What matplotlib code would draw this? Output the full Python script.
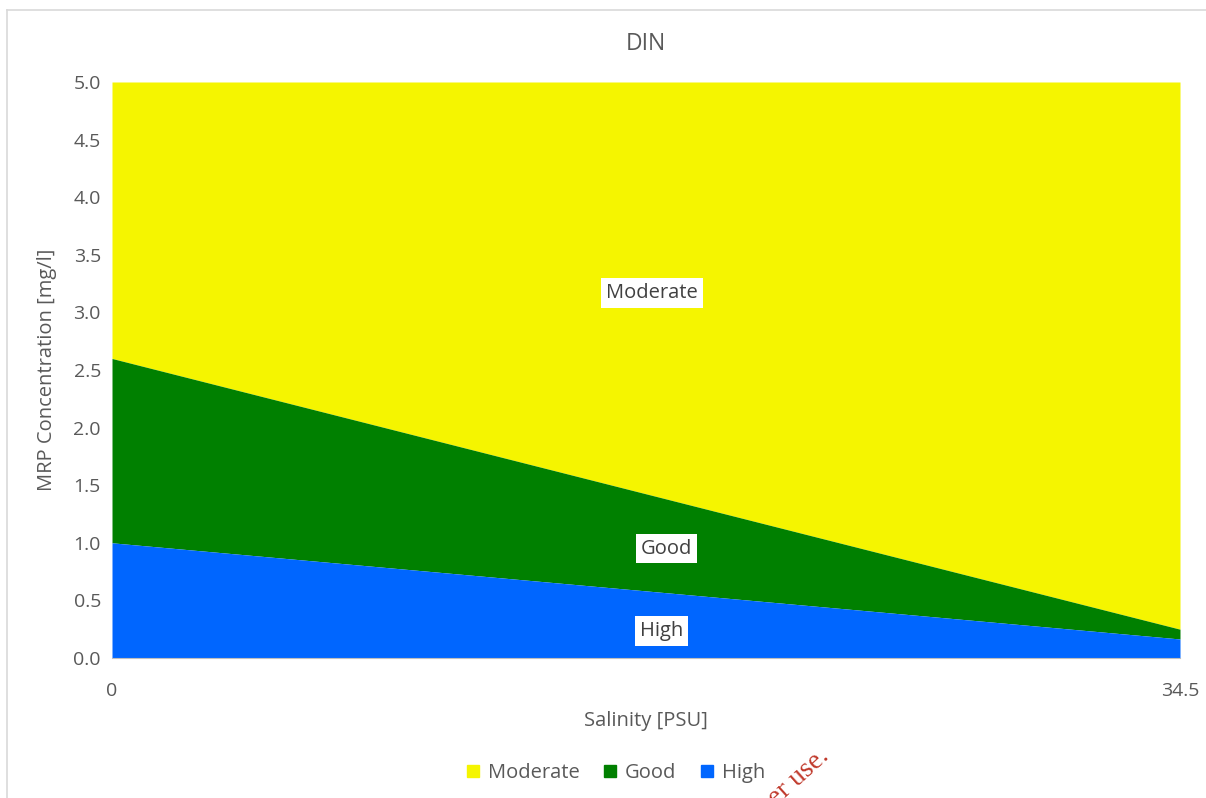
import matplotlib
matplotlib.use("Agg")
import matplotlib.pyplot as plt
from matplotlib.lines import Line2D
import numpy as np

plt.rcParams['font.family'] = ['Open Sans', 'DejaVu Sans']

# Data
salinity = [0, 34.5]
high = [1.0, 0.165]
good_upper = [2.6, 0.25]
moderate_upper = [5.0, 5.0]
series_names = ["Moderate", "Good", "High"]
label_x = [17.45, 17.9, 17.75]
label_y = [3.17, 0.95, 0.235]

c_mod = "#F5F500"
c_good = "#008000"
c_high = "#0066FF"
txt = "#595959"

fig = plt.figure(figsize=(12.06, 7.98), dpi=100)
ax = fig.add_axes([112/1206, 1-658/798, (1180-112)/1206, (658-82)/798])

x = np.array(salinity)
ax.fill_between(x, good_upper, moderate_upper, color=c_mod, lw=0, label="Moderate")
ax.fill_between(x, high, good_upper, color=c_good, lw=0, label="Good")
ax.fill_between(x, 0, high, color=c_high, lw=0, label="High")

ax.set_xlim(0, 34.5)
ax.set_ylim(0, 5.0)
yt = np.arange(0, 5.01, 0.5)
ax.set_yticks(yt)
ax.set_yticklabels([f"{v:.1f}" for v in yt])
ax.set_xticks([0, 34.5])
ax.set_xticklabels(["0", "34.5"])
ax.tick_params(axis='both', length=0, colors=txt, labelsize=14)
ax.tick_params(axis='x', pad=17)
ax.tick_params(axis='y', pad=8)
for s in ["top", "right", "left"]:
    ax.spines[s].set_visible(False)
ax.spines["bottom"].set_color("#BFBFBF")

for name, lx, ly in zip(series_names, label_x, label_y):
    ax.text(lx, ly, name, ha='center', va='center', fontsize=14.5, color="#404040",
            bbox=dict(facecolor='white', edgecolor='none', pad=3.5))

ax.set_title("DIN", fontsize=16.5, color=txt, pad=23)
ax.set_xlabel("Salinity [PSU]", fontsize=14.5, color=txt, labelpad=8)
ax.set_ylabel("MRP Concentration [mg/l]", fontsize=14.5, color=txt, labelpad=12)

handles = [plt.Rectangle((0, 0), 1, 1, color=c) for c in [c_mod, c_good, c_high]]
fig.legend(handles, series_names, loc='center', bbox_to_anchor=(616/1206, 1-773/798),
           ncol=3, frameon=False, fontsize=14.5, labelcolor=txt,
           handlelength=0.6, handleheight=0.6, handletextpad=0.45, columnspacing=1.2)

# chart frame
fig.add_artist(Line2D([7/1206, 1.0], [1-10/798, 1-10/798], color="#D9D9D9", lw=1.2, transform=fig.transFigure))
fig.add_artist(Line2D([7/1206, 7/1206], [0, 1-10/798], color="#D9D9D9", lw=1.2, transform=fig.transFigure))

# watermark (partially visible)
fig.text(830/1206, 1-758/798, "Consent of copyright owner required for any other use.",
         rotation=42, ha='right', va='baseline', rotation_mode='anchor',
         fontsize=20, color="#C0392B", family=['Liberation Serif', 'DejaVu Serif'])

fig.savefig("out.png", dpi=100)
